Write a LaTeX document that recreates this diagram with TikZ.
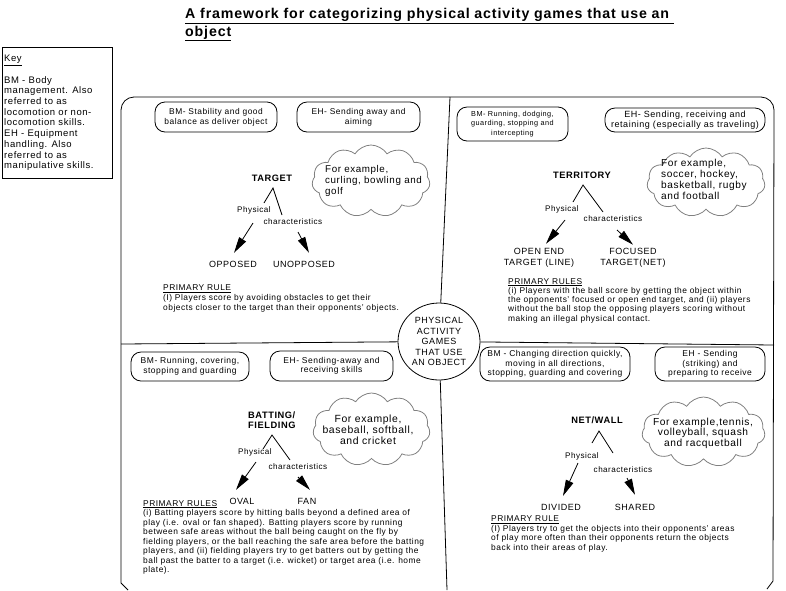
\documentclass[tikz,border=0pt]{standalone}
\usepackage{fontspec}
\setmainfont{Liberation Sans}[LetterSpace=6]
\usetikzlibrary{arrows.meta,shapes.symbols,shapes.geometric}
\newcommand\myfs[2]{\fontsize{#1}{#2}\selectfont}
\tikzset{
  ln/.style={line width=0.8pt},
  skillbox/.style={draw, line width=0.8pt, rounded corners=10pt, align=center, inner sep=0pt},
  puff/.style={cloud, cloud puffs=11, cloud puff arc=115, draw=black!50, line width=0.8pt, inner sep=0pt},
  gamename/.style={font=\myfs{9.3}{10}\bfseries, inner sep=0pt, align=left},
  physlbl/.style={font=\myfs{8.1}{9}, inner sep=0pt},
  kind/.style={font=\myfs{9}{11}, inner sep=0pt, align=center},
  ruletxt/.style={font=\myfs{8.4}{9.6}, inner sep=0pt, align=left, anchor=north west},
  extxt/.style={inner sep=0pt},
  arr/.style={line width=0.8pt, -{Triangle[length=16pt,width=8pt]}},
}
\begin{document}
\begin{tikzpicture}[x=1pt,y=-1pt]
\useasboundingbox (0,0) rectangle (786,590);
% title
\node[anchor=base west, inner sep=0pt, font=\myfs{14.2}{17}\bfseries] (title1) at (185,18.5) {\underline{A framework for categorizing physical activity games that use an\ }};
\node[anchor=base west, inner sep=0pt, font=\myfs{14.2}{17}\bfseries] (title2) at (185,36) {\underline{object}};
% key
\node[draw, ln, minimum width=110pt, minimum height=131pt, anchor=north west, inner sep=0pt] (keybox) at (2,47) {};
\node[anchor=north west, align=left, inner sep=0pt, font=\myfs{9.5}{10.7}] (keytxt) at (4,55) {\underline{Key}\\[9.6pt]BM - Body\\management. Also\\referred to as\\locomotion or non-\\locomotion skills.\\EH - Equipment\\handling.  Also\\referred to as\\manipulative skills.};
% frame
\draw[ln] (128,590) -- (121,583) -- (121,110) arc[start angle=180,end angle=270,radius=13] -- (761,97) arc[start angle=270,end angle=360,radius=13] -- (773,581) -- (767,589);
% hub and dividers
\node[draw, ln, ellipse, minimum width=82pt, minimum height=77pt, align=center, inner sep=0pt, font=\myfs{9}{10.5}] (hub) at (439,341.5) {PHYSICAL\\ACTIVITY\\GAMES\\THAT USE\\AN OBJECT};
\coordinate (dTop) at (450,97);
\coordinate (dBot) at (447,590);
\coordinate (dLeft) at (121,344);
\coordinate (dRight) at (774,345);
\draw[ln] (dTop) -- (hub);
\draw[ln] (hub) -- (dBot);
\draw[ln] (dLeft) -- (hub);
\draw[ln] (hub) -- (dRight);

% ===== TARGET =====
\node[skillbox, minimum width=122pt, minimum height=30pt, font=\myfs{8.4}{10}] (tgBM) at (216,117) {BM- Stability and good\\balance as deliver object};
\node[skillbox, minimum width=123pt, minimum height=30pt, font=\myfs{8.4}{10}] (tgEH) at (358.5,117) {EH- Sending away and\\aiming};
\node[puff, minimum width=118pt, minimum height=72pt, aspect=1.64] (tgCloud) at (371,181) {};
\node[extxt, anchor=north west, align=left, font=\myfs{9.8}{11}] (tgEx) at (325,165) {For example,\\curling, bowling and\\golf};
\node[gamename] (tgName) at (272,178) {TARGET};
\coordinate (tgApex) at (273,188);
\coordinate (tgL) at (264,203);
\coordinate (tgR) at (282,215);
\draw[ln] (tgL) -- (tgApex) -- (tgR);
\node[physlbl] (tgPhys) at (254,210) {Physical};
\node[physlbl] (tgChar) at (293,222) {characteristics};
\node[kind] (tgOpp) at (233,264) {OPPOSED};
\node[kind] (tgUnopp) at (304,264) {UNOPPOSED};
\coordinate (tgA1) at (253,223);
\coordinate (tgA2) at (298,232);
\draw[arr] (tgA1) -- ([xshift=1pt,yshift=7.8pt]tgOpp.north);
\draw[arr] (tgA2) -- ([xshift=5pt,yshift=7.8pt]tgUnopp.north);
\node[ruletxt] (tgRule) at (163,285) {\underline{PRIMARY RULE}\\(I) Players score by avoiding obstacles to get their\\objects closer to the target than their opponents' objects.};

% ===== TERRITORY =====
\node[skillbox, minimum width=111pt, minimum height=34pt, font=\myfs{7.3}{9.2}] (trBM) at (512.5,124) {BM- Running, dodging,\\guarding, stopping and\\intercepting};
\node[skillbox, minimum width=160pt, minimum height=24pt, font=\myfs{9}{9.5}] (trEH) at (685,120) {EH- Sending, receiving and\\retaining (especially as traveling)};
\node[puff, minimum width=118pt, minimum height=69pt, aspect=1.7] (trCloud) at (706,182.5) {};
\node[extxt, anchor=north west, align=left, font=\myfs{10.1}{11}] (trEx) at (661,159.3) {For example,\\soccer, hockey,\\basketball, rugby\\and football};
\node[gamename] (trName) at (582,175) {TERRITORY};
\coordinate (trApex) at (583,185);
\coordinate (trL) at (573,202);
\coordinate (trR) at (603,212);
\draw[ln] (trL) -- (trApex) -- (trR);
\node[physlbl] (trPhys) at (562,209) {Physical};
\node[physlbl] (trChar) at (613,219) {characteristics};
\node[kind] (trOpen) at (539,257.5) {OPEN END\\TARGET (LINE)};
\node[kind] (trFoc) at (633,257.5) {FOCUSED\\TARGET(NET)};
\coordinate (trA1) at (565,220);
\coordinate (trA2) at (617,230);
\draw[arr] (trA1) -- ([xshift=7pt,yshift=4pt]trOpen.north);
\draw[arr] (trA2) -- ([yshift=3pt]trFoc.north);
\node[ruletxt, font=\myfs{8.4}{9.3}] (trRule) at (508,278) {\underline{PRIMARY RULES}\\(i) Players with the ball score by getting the object within\\the opponents' focused or open end target, and (ii) players\\without the ball stop the opposing players scoring without\\making an illegal physical contact.};

% ===== BATTING / FIELDING =====
\node[skillbox, minimum width=118pt, minimum height=29pt, font=\myfs{8.5}{9.5}] (bfBM) at (190,366.5) {BM- Running, covering,\\stopping and guarding};
\node[skillbox, minimum width=123pt, minimum height=30pt, font=\myfs{8.5}{9.5}] (bfEH) at (331.5,366) {EH- Sending-away and\\receiving skills};
\node[puff, minimum width=117pt, minimum height=73pt, aspect=1.6] (bfCloud) at (371.5,429.5) {};
\node[extxt, anchor=north, align=center, font=\myfs{10.4}{11}] (bfEx) at (368,414.3) {For example,\\baseball, softball,\\and cricket};
\node[gamename, anchor=north west] (bfName) at (248,411.4) {BATTING/\\FIELDING};
\coordinate (bfApex) at (272,435);
\coordinate (bfL) at (263,449);
\coordinate (bfR) at (290,460);
\draw[ln] (bfL) -- (bfApex) -- (bfR);
\node[physlbl] (bfPhys) at (255,452) {Physical};
\node[physlbl] (bfChar) at (298,467) {characteristics};
\node[kind] (bfOval) at (242,501) {OVAL};
\node[kind] (bfFan) at (307,501) {FAN};
\coordinate (bfA1) at (256,462);
\coordinate (bfA2) at (298,477);
\draw[arr] (bfA1) -- ([xshift=-6pt,yshift=7.8pt]bfOval.north);
\draw[arr] (bfA2) -- ([xshift=3pt,yshift=7.8pt]bfFan.north);
\node[ruletxt, font=\myfs{8.4}{9.5}] (bfRule) at (143,500) {\underline{PRIMARY RULES}\\(i) Batting players score by hitting balls beyond a defined  area of\\play (i.e. oval or fan shaped).  Batting players score by running\\between safe areas without the ball being caught on the fly by\\fielding players, or the ball reaching the safe area before the batting\\players, and (ii) fielding players try to get batters out by getting the\\ball past the batter to a target (i.e. wicket) or target area (i.e. home\\plate).};

% ===== NET / WALL =====
\node[skillbox, minimum width=150pt, minimum height=34pt, font=\myfs{8.5}{9.3}] (nwBM) at (555,364) {BM - Changing direction quickly,\\moving in all directions,\\stopping, guarding and covering};
\node[skillbox, minimum width=110pt, minimum height=34pt, font=\myfs{8.5}{9.3}] (nwEH) at (710,364) {EH - Sending\\(striking) and\\preparing  to receive};
\node[puff, minimum width=123pt, minimum height=70pt, aspect=1.75] (nwCloud) at (703.5,432) {};
\node[extxt, anchor=north, align=center, font=\myfs{10.2}{10.5}] (nwEx) at (703,417.5) {For example,tennis,\\volleyball, squash\\and racquetball};
\node[gamename] (nwName) at (597,420) {NET/WALL};
\coordinate (nwApex) at (599,431);
\coordinate (nwL) at (592,443);
\coordinate (nwR) at (613,453);
\draw[ln] (nwL) -- (nwApex) -- (nwR);
\node[physlbl] (nwPhys) at (582,456) {Physical};
\node[physlbl] (nwChar) at (623,470) {characteristics};
\node[kind] (nwDiv) at (561,507) {DIVIDED};
\node[kind] (nwShr) at (635,507) {SHARED};
\coordinate (nwA1) at (578,463);
\coordinate (nwA2) at (627,478);
\draw[arr] (nwA1) -- ([xshift=2pt,yshift=7.8pt]nwDiv.north);
\draw[arr] (nwA2) -- ([yshift=8.8pt]nwShr.north);
\node[ruletxt, font=\myfs{8.4}{9.5}] (nwRule) at (491,516) {\underline{PRIMARY RULE}\\(I) Players try to get the objects into their opponents' areas\\of play more often than their opponents return the objects\\back into their areas of play.};
\end{tikzpicture}
\end{document}
